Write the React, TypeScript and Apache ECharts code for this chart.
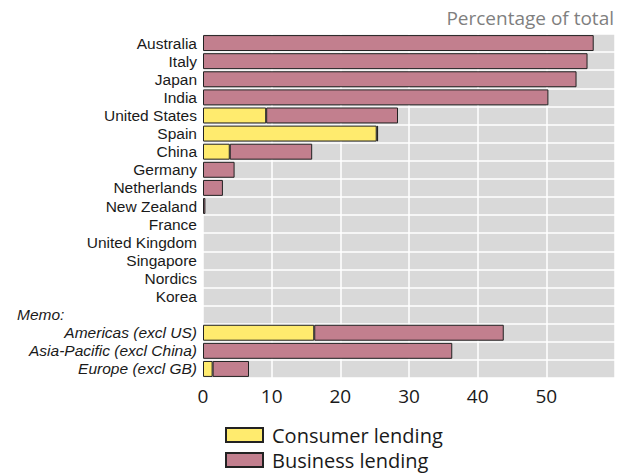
import React, { useEffect, useRef } from "react";
import * as echarts from "echarts";

const categories = [
  "Australia", "Italy", "Japan", "India", "United States", "Spain", "China",
  "Germany", "Netherlands", "New Zealand", "France", "United Kingdom",
  "Singapore", "Nordics", "Korea", "Memo:", "Americas (excl US)",
  "Asia-Pacific (excl China)", "Europe (excl GB)",
];
const memoItems = ["Americas (excl US)", "Asia-Pacific (excl China)", "Europe (excl GB)"];

const consumer = [null, null, null, null, 9.2, 25.3, 3.9, null, null, null, null, null, null, null, null, null, 16.2, null, 1.4];
const business = [56.9, 56.0, 54.4, 50.3, 19.2, 0.2, 12.0, 4.6, 2.9, 0.35, null, null, null, null, null, null, 27.6, 36.3, 5.3];

const xTicks = [0, 10, 20, 30, 40, 50];

const FONT = "Open Sans";
const LABEL_FONT = "Liberation Sans";

export default function App() {
  const ref = useRef<HTMLDivElement>(null);
  useEffect(() => {
    if (!ref.current) return;
    const chart = echarts.init(ref.current, undefined, { renderer: "svg" });
    chart.setOption({
      animation: false,
      textStyle: { fontFamily: FONT },
      title: {
        text: "Percentage of total",
        right: 12,
        top: 8,
        padding: 0,
        textStyle: { color: "#7f7f7f", fontWeight: "normal", fontSize: 19, fontFamily: FONT },
      },
      grid: {
        left: 203,
        right: 11,
        top: 34,
        bottom: 95,
        show: true,
        backgroundColor: "#d9d9d9",
        borderWidth: 0,
      },
      legend: {
        orient: "vertical",
        left: 225,
        top: 425,
        height: 60,
        itemWidth: 37,
        itemHeight: 14,
        itemGap: 5,
        padding: 0,
        icon: "rect",
        textStyle: { fontSize: 20, lineHeight: 20, padding: [0, 0, 0, 4], color: "#1a1a1a", fontFamily: FONT },
        data: ["Consumer lending", "Business lending"],
      },
      xAxis: {
        type: "value",
        min: 0,
        max: 60,
        interval: 10,
        axisLine: { show: false },
        axisTick: { show: false },
        splitLine: { show: true, lineStyle: { color: "#ffffff", width: 1.5 } },
        axisLabel: {
          margin: 8,
          fontSize: 19,
          color: "#1a1a1a",
          fontFamily: FONT,
          formatter: (v: number) => (xTicks.includes(v) ? String(v) : ""),
        },
      },
      yAxis: {
        type: "category",
        inverse: true,
        data: categories,
        axisLine: { show: false },
        axisTick: { show: false },
        splitLine: { show: true, interval: 0, lineStyle: { color: "#ffffff", width: 1.5 } },
        axisLabel: {
          margin: 6,
          interval: 0,
          fontSize: 15.5,
          lineHeight: 17,
          color: "#1a1a1a",
          fontFamily: LABEL_FONT,
          formatter: (v: string) => {
            if (v === "Memo:") return "{memo|Memo:}";
            if (memoItems.includes(v)) return "{it|" + v + "}";
            return v;
          },
          rich: {
            memo: { fontStyle: "italic", fontSize: 15.5, lineHeight: 17, width: 180, align: "left", color: "#1a1a1a", fontFamily: LABEL_FONT },
            it: { fontStyle: "italic", fontSize: 15.5, lineHeight: 17, color: "#1a1a1a", fontFamily: LABEL_FONT },
          },
        },
      },
      series: [
        {
          name: "Consumer lending",
          type: "bar",
          stack: "total",
          data: consumer,
          barCategoryGap: "12%",
          itemStyle: { color: "#ffeb6e", borderColor: "#222222", borderWidth: 1 },
        },
        {
          name: "Business lending",
          type: "bar",
          stack: "total",
          data: business,
          barCategoryGap: "12%",
          itemStyle: { color: "#c27f8e", borderColor: "#222222", borderWidth: 1 },
        },
      ],
    });
    return () => chart.dispose();
  }, []);
  return (
    <div
      ref={ref}
      style={{ position: "fixed", left: 0, top: 0, width: 626, height: 473, background: "#ffffff" }}
    />
  );
}
